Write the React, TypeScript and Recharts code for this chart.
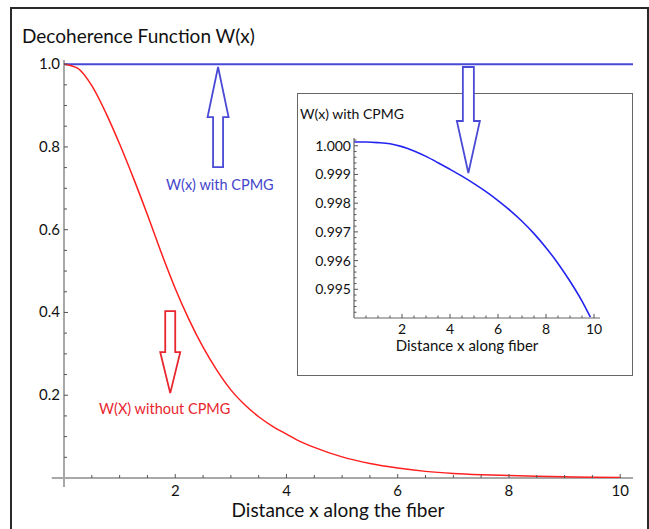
import React from 'react';
import { LineChart, Line, XAxis, YAxis, ReferenceLine, ReferenceDot } from 'recharts';

const FONT = 'Lato, "Open Sans", sans-serif';

// Main chart: W(x) without CPMG (red)
const distanceX = [0, 0.25, 0.5, 0.75, 1, 1.25, 1.5, 1.75, 2, 2.25, 2.5, 2.75, 3, 3.25, 3.5, 3.75, 4, 4.25, 4.5, 5, 5.5, 6, 6.5, 7, 7.5, 8, 8.5, 9, 9.5, 10];
const wWithout = [1.0, 0.99, 0.948, 0.883, 0.807, 0.724, 0.636, 0.544, 0.458, 0.382, 0.316, 0.26, 0.213, 0.177, 0.148, 0.125, 0.106, 0.088, 0.074, 0.051, 0.035, 0.024, 0.016, 0.011, 0.008, 0.006, 0.004, 0.003, 0.002, 0.0015];

// Main chart: W(x) with CPMG (blue, ~1)
const cpmgX = [0, 10.23];
const cpmgW = [1.0, 1.0];

// Inset: W(x) with CPMG zoomed
const insetX = [0, 0.5, 1, 1.5, 2, 2.5, 3, 3.5, 4, 4.5, 5, 5.5, 6, 6.5, 7, 7.5, 8, 8.5, 9, 9.5, 9.85];
const insetW = [1.00013, 1.00013, 1.00011, 1.00007, 0.99997, 0.99982, 0.99963, 0.99941, 0.99918, 0.99894, 0.99868, 0.9984, 0.99809, 0.99775, 0.99737, 0.99694, 0.99645, 0.9959, 0.99528, 0.99459, 0.99403];

const mainXTicks = Array.from({ length: 20 }, (_, i) => (i + 1) * 0.5);
const mainYTicks = Array.from({ length: 20 }, (_, i) => Number(((i + 1) * 0.05).toFixed(2)));
const insetXTicks = Array.from({ length: 20 }, (_, i) => (i + 1) * 0.5);
const insetYTicks = Array.from({ length: 31 }, (_, i) => Number((0.9942 + i * 0.0002).toFixed(4)));

const redData = distanceX.map((x, i) => ({ x, w: wWithout[i] }));
const blueData = cpmgX.map((x, i) => ({ x, w: cpmgW[i] }));
const insetData = insetX.map((x, i) => ({ x, w: insetW[i] }));

const MainXTick = (props: any) => {
  const { x, y, payload } = props;
  const v = payload.value;
  const major = Math.abs(v / 2 - Math.round(v / 2)) < 1e-6;
  return (
    <g>
      <line x1={x} x2={x} y1={y} y2={y - (major ? 4 : 3)} stroke="#555" strokeWidth={1} />
      {major && (
        <text x={x} y={y + 18} textAnchor="middle" fontFamily={FONT} fontSize={15} fill="#111">
          {v}
        </text>
      )}
    </g>
  );
};

const MainYTick = (props: any) => {
  const { x, y, payload } = props;
  const v = payload.value;
  const major = Math.abs(v * 5 - Math.round(v * 5)) < 1e-6;
  return (
    <g>
      <line x1={x} x2={x + (major ? 4 : 3)} y1={y} y2={y} stroke="#555" strokeWidth={1} />
      {major && (
        <text x={x - 4} y={y + 5} textAnchor="end" fontFamily={FONT} fontSize={15} fill="#111">
          {v.toFixed(1)}
        </text>
      )}
    </g>
  );
};

const InsetXTick = (props: any) => {
  const { x, y, payload } = props;
  const v = payload.value;
  const major = Math.abs(v / 2 - Math.round(v / 2)) < 1e-6;
  return (
    <g>
      <line x1={x} x2={x} y1={y} y2={y - (major ? 4 : 2.5)} stroke="#555" strokeWidth={1} />
      {major && (
        <text x={x} y={y + 16} textAnchor="middle" fontFamily={FONT} fontSize={14} fill="#111">
          {v}
        </text>
      )}
    </g>
  );
};

const InsetYTick = (props: any) => {
  const { x, y, payload } = props;
  const v = payload.value;
  const major = Math.abs(v * 1000 - Math.round(v * 1000)) < 1e-6;
  return (
    <g>
      <line x1={x} x2={x + (major ? 4 : 2.5)} y1={y} y2={y} stroke="#555" strokeWidth={1} />
      {major && (
        <text x={x - 3} y={y + 5} textAnchor="end" fontFamily={FONT} fontSize={14} fill="#111">
          {v.toFixed(3)}
        </text>
      )}
    </g>
  );
};

const makeArrow = (dir: 'up' | 'down', color: string, headLen: number, headHalf: number, shaftHalf: number, total: number) =>
  (props: any) => {
    const { cx, cy } = props;
    const s = dir === 'up' ? 1 : -1;
    const d = [
      `M${cx},${cy}`,
      `L${cx + headHalf},${cy + s * headLen}`,
      `L${cx + shaftHalf},${cy + s * headLen}`,
      `L${cx + shaftHalf},${cy + s * total}`,
      `L${cx - shaftHalf},${cy + s * total}`,
      `L${cx - shaftHalf},${cy + s * headLen}`,
      `L${cx - headHalf},${cy + s * headLen}`,
      'Z',
    ].join(' ');
    return <path d={d} fill="#fff" stroke={color} strokeWidth={1.8} strokeLinejoin="miter" />;
  };

const blueUpArrow = makeArrow('up', '#4a4ad6', 50, 10.5, 5, 100);
const blueDownArrow = makeArrow('down', '#4a4ad6', 52, 11.5, 5.5, 106);
const redDownArrow = makeArrow('down', '#e8262e', 41, 10, 5, 82);

export default function App() {
  return (
    <div style={{ position: 'absolute', left: 0, top: 0, width: 649, height: 529, background: '#fff', overflow: 'hidden' }}>
      {/* outer frame */}
      <div
        style={{
          position: 'absolute',
          left: 10,
          top: 7,
          width: 639,
          height: 540,
          border: '2px solid #2a2a2a',
          boxSizing: 'border-box',
        }}
      />

      {/* inset */}
      <div
        style={{
          position: 'absolute',
          left: 297,
          top: 93,
          width: 336,
          height: 283,
          border: '1px solid #666',
          boxSizing: 'border-box',
        }}
      >
        <LineChart width={334} height={281} margin={{ top: 44, right: 32, bottom: 0, left: 0 }}>
          <XAxis
            dataKey="x"
            type="number"
            domain={[0, 10.25]}
            allowDataOverflow
            ticks={insetXTicks}
            interval={0}
            tick={<InsetXTick />}
            tickSize={0}
            tickMargin={0}
            tickLine={false}
            axisLine={{ stroke: '#666', strokeWidth: 1.2 }}
            height={57}
          />
          <YAxis
            type="number"
            domain={[0.994, 1.00027]}
            allowDataOverflow
            ticks={insetYTicks}
            interval={0}
            tick={<InsetYTick />}
            tickSize={0}
            tickMargin={0}
            tickLine={false}
            axisLine={{ stroke: '#666', strokeWidth: 1.2 }}
            width={56}
          />
          <Line
            data={insetData}
            dataKey="w"
            type="monotone"
            stroke="#2424f0"
            strokeWidth={1.6}
            dot={false}
            isAnimationActive={false}
          />
        </LineChart>
      </div>

      {/* main chart */}
      <div style={{ position: 'absolute', left: 0, top: 0 }}>
        <LineChart width={649} height={529} margin={{ top: 60, right: 16, bottom: 0, left: 0 }}>
          <XAxis
            dataKey="x"
            type="number"
            domain={[0, 10.23]}
            allowDataOverflow
            ticks={mainXTicks}
            interval={0}
            tick={<MainXTick />}
            tickSize={0}
            tickMargin={0}
            tickLine={false}
            axisLine={false}
            height={51}
          />
          <YAxis
            type="number"
            domain={[0, 1.01]}
            allowDataOverflow
            ticks={mainYTicks}
            interval={0}
            tick={<MainYTick />}
            tickSize={0}
            tickMargin={0}
            tickLine={false}
            axisLine={false}
            width={64}
          />
          <ReferenceLine
            segment={[{ x: -0.22, y: 0 }, { x: 10.23, y: 0 }]}
            stroke="#a8a8a8"
            strokeWidth={2}
            ifOverflow="visible"
          />
          <ReferenceLine
            segment={[{ x: 0, y: -0.022 }, { x: 0, y: 1.01 }]}
            stroke="#a8a8a8"
            strokeWidth={2}
            ifOverflow="visible"
          />
          <Line
            data={blueData}
            dataKey="w"
            type="linear"
            stroke="#4848d8"
            strokeWidth={2}
            dot={false}
            isAnimationActive={false}
          />
          <Line
            data={redData}
            dataKey="w"
            type="monotone"
            stroke="#ff1f1f"
            strokeWidth={1.5}
            dot={false}
            isAnimationActive={false}
          />
          <ReferenceDot x={2.77} y={0.993} r={0} ifOverflow="visible" shape={blueUpArrow} />
          <ReferenceDot x={7.27} y={0.737} r={0} ifOverflow="visible" shape={blueDownArrow} />
          <ReferenceDot x={1.91} y={0.205} r={0} ifOverflow="visible" shape={redDownArrow} />
        </LineChart>
      </div>

      {/* text overlay */}
      <svg
        width={649}
        height={529}
        style={{ position: 'absolute', left: 0, top: 0, pointerEvents: 'none' }}
      >
        <text x={22} y={43} fontFamily={FONT} fontSize={19} fill="#111">
          Decoherence Function W(x)
        </text>
        <text x={338} y={517} textAnchor="middle" fontFamily={FONT} fontSize={19} fill="#111">
          Distance x along the fiber
        </text>
        <text x={166} y={190} fontFamily={FONT} fontSize={14.5} fill="#4545cc">
          W(x) with CPMG
        </text>
        <text x={99} y={414} fontFamily={FONT} fontSize={14.5} fill="#e8262e">
          W(X) without CPMG
        </text>
        <text x={300} y={119} fontFamily={FONT} fontSize={14} fill="#111">
          W(x) with CPMG
        </text>
        <text x={467} y={351} textAnchor="middle" fontFamily={FONT} fontSize={15} fill="#111">
          Distance x along fiber
        </text>
      </svg>
    </div>
  );
}
